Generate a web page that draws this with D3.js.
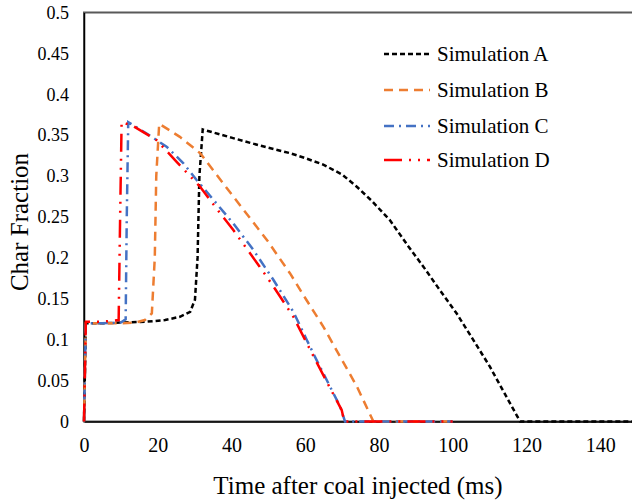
<!DOCTYPE html>
<html>
<head>
<meta charset="utf-8">
<script src="https://cdn.jsdelivr.net/npm/d3@7"></script>
<style>
  body { margin: 0; background: #fff; }
  svg { display: block; font-family: "Liberation Serif", "Times New Roman", serif; }
</style>
</head>
<body>
<svg id="svg" width="632" height="502"></svg>
<script>
// values (time in ms, char fraction)
const timeA = [0, 0.5, 5, 10, 17, 22, 26, 28.8, 30.1, 30.8, 31.3, 32.2, 40, 48, 55.9, 60, 64.9, 70, 74, 78, 83, 88, 92.1, 96, 101.1, 105, 110.1, 114, 118.3, 130, 150]
const simA = [0, 0.12, 0.12, 0.121, 0.122, 0.124, 0.128, 0.134, 0.149, 0.2, 0.3, 0.357, 0.347, 0.337, 0.328, 0.322, 0.314, 0.302, 0.287, 0.27, 0.246, 0.214, 0.189, 0.164, 0.132, 0.104, 0.067, 0.035, 0, 0, 0]

const timeB = [0, 0.5, 5, 10, 14, 16.5, 18.4, 19.2, 19.6, 20.4, 26, 31.5, 40.5, 49.6, 55.9, 60, 64.9, 70, 74, 78.5, 100]
const simB = [0, 0.12, 0.12, 0.12, 0.121, 0.124, 0.132, 0.2, 0.3, 0.364, 0.348, 0.328, 0.275, 0.222, 0.181, 0.151, 0.116, 0.075, 0.043, 0, 0]

const timeC = [0, 0.5, 5, 10, 11.3, 11.6, 12.0, 17, 22.4, 26.9, 30.6, 35.1, 40.5, 45.9, 51.4, 56.8, 60.4, 63.1, 65.8, 69.5, 70.8, 100]
const simC = [0, 0.12, 0.12, 0.121, 0.125, 0.25, 0.366, 0.352, 0.336, 0.316, 0.295, 0.271, 0.242, 0.21, 0.173, 0.134, 0.1, 0.075, 0.051, 0.018, 0, 0]

const timeD = [0, 0.5, 5, 9.4, 9.8, 10.2, 13.4, 19.7, 25, 31.5, 35.5, 40.5, 47.7, 51.4, 56.8, 60.4, 65.8, 69.9, 70.6, 100]
const simD = [0, 0.122, 0.122, 0.124, 0.25, 0.366, 0.361, 0.344, 0.318, 0.287, 0.263, 0.234, 0.189, 0.165, 0.128, 0.096, 0.049, 0.014, 0, 0]

const xTicks = [0, 20, 40, 60, 80, 100, 120, 140]
const yTicks = [0, 0.05, 0.1, 0.15, 0.2, 0.25, 0.3, 0.35, 0.4, 0.45, 0.5]
const names = ['Simulation A', 'Simulation B', 'Simulation C', 'Simulation D']

const series = [
  {name: names[0], t: timeA, v: simA, color: '#000000', dash: '5,3'},
  {name: names[1], t: timeB, v: simB, color: '#ED7D31', dash: '9,6'},
  {name: names[2], t: timeC, v: simC, color: '#4472C4', dash: '10,5,2,5'},
  {name: names[3], t: timeD, v: simD, color: '#FF0000', dash: '18,7,2,7,2,7'}
]

const serif = '"Liberation Serif", "Times New Roman", serif'
const svg = d3.select('#svg')
const x = d3.scaleLinear().domain([0, 150]).range([84, 637])
const y = d3.scaleLinear().domain([0, 0.5]).range([421.5, 12.5])

// plot area border (right side runs off the picture)
svg.append('rect')
  .attr('x', x(0)).attr('y', y(0.5))
  .attr('width', x(150) - x(0)).attr('height', y(0) - y(0.5))
  .attr('fill', 'none').attr('stroke', '#595959').attr('stroke-width', 2)

const xAxis = svg.append('g')
  .attr('transform', `translate(0,${y(0)})`)
  .call(d3.axisBottom(x).tickValues(xTicks).tickSize(0).tickPadding(16).tickFormat(d3.format('d')))
  .attr('font-family', serif)
xAxis.select('.domain').attr('stroke', '#000').attr('stroke-width', 1.5)
xAxis.selectAll('text').attr('font-size', 20).attr('fill', '#000')

const yAxis = svg.append('g')
  .attr('transform', `translate(${x(0)},0)`)
  .call(d3.axisLeft(y).tickValues(yTicks).tickSize(0).tickPadding(15).tickFormat(d => String(+d.toFixed(2))))
  .attr('font-family', serif)
yAxis.select('.domain').attr('stroke', '#000').attr('stroke-width', 1.5)
yAxis.selectAll('text').attr('font-size', 18).attr('fill', '#000')

svg.append('clipPath').attr('id', 'plot')
  .append('rect').attr('x', x(0) - 2).attr('y', y(0.5)).attr('width', x(150) - x(0) + 2).attr('height', y(0) - y(0.5) + 2)

const line = d3.line().x(d => x(d[0])).y(d => y(d[1]))

svg.append('g').attr('clip-path', 'url(#plot)')
  .selectAll('path')
  .data(series)
  .join('path')
  .attr('d', s => line(s.t.map((t, i) => [t, s.v[i]])))
  .attr('fill', 'none')
  .attr('stroke', s => s.color)
  .attr('stroke-width', 2.5)
  .attr('stroke-dasharray', s => s.dash)

// legend
const legendY = [54, 90, 126, 160]
const legend = svg.append('g')
series.forEach((s, i) => {
  legend.append('line')
    .attr('x1', 384).attr('x2', 430)
    .attr('y1', legendY[i]).attr('y2', legendY[i])
    .attr('stroke', s.color).attr('stroke-width', 2.5)
    .attr('stroke-dasharray', s.dash)
  legend.append('text')
    .attr('x', 437).attr('y', legendY[i])
    .attr('dy', '0.35em')
    .attr('font-size', 21)
    .text(s.name)
})

svg.append('text')
  .attr('x', 358).attr('y', 494)
  .attr('text-anchor', 'middle')
  .attr('font-size', 25)
  .text('Time after coal injected (ms)')

svg.append('text')
  .attr('transform', 'translate(28,222) rotate(-90)')
  .attr('text-anchor', 'middle')
  .attr('font-size', 25)
  .text('Char Fraction')
</script>
</body>
</html>
